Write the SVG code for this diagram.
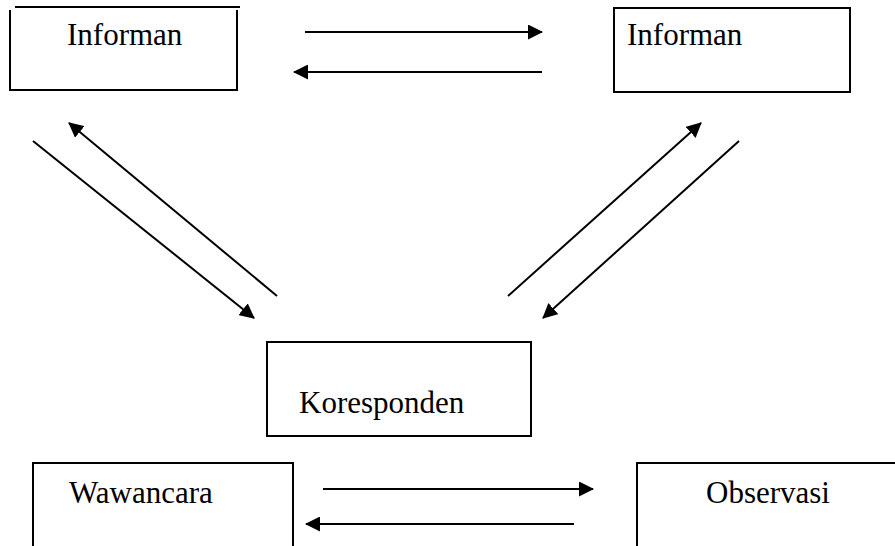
<svg xmlns="http://www.w3.org/2000/svg" width="895" height="546" viewBox="0 0 895 546">
<style>
.box{fill:none;stroke:#000;stroke-width:2}
.lbl{font-family:"Liberation Serif","Times New Roman",serif;font-size:31px;fill:#000}
.con{stroke:#000;stroke-width:2;fill:none}
</style>
<defs>
<marker id="ah" viewBox="0 0 15 15" refX="14" refY="7.5" markerWidth="15" markerHeight="15" markerUnits="userSpaceOnUse" orient="auto">
<path d="M0,0 L15,7.5 L0,15 z" fill="#000"/>
</marker>
</defs>
<rect width="895" height="546" fill="#fff"/>
<g id="informan-left">
<path class="box" d="M15,7 H240 M10,10 V90 H237 V10"/>
<text class="lbl" x="67" y="45">Informan</text>
</g>
<g id="informan-right">
<rect class="box" x="614" y="8" width="236" height="84"/>
<text class="lbl" x="627" y="45">Informan</text>
</g>
<g id="koresponden">
<rect class="box" x="267" y="342" width="264" height="94"/>
<text class="lbl" x="299" y="413">Koresponden</text>
</g>
<g id="wawancara">
<path class="box" d="M33,560 V463 H293 V560"/>
<text class="lbl" x="69" y="503">Wawancara</text>
</g>
<g id="observasi">
<path class="box" d="M637,560 V463 H900"/>
<text class="lbl" x="706" y="503">Observasi</text>
</g>
<g id="connectors">
<line class="con" x1="305" y1="32" x2="542" y2="32" marker-end="url(#ah)"/>
<line class="con" x1="542" y1="72" x2="294" y2="72" marker-end="url(#ah)"/>
<line class="con" x1="33" y1="141" x2="254" y2="318" marker-end="url(#ah)"/>
<line class="con" x1="277" y1="296" x2="69" y2="123" marker-end="url(#ah)"/>
<line class="con" x1="508" y1="296" x2="701" y2="123" marker-end="url(#ah)"/>
<line class="con" x1="739" y1="141" x2="543" y2="318" marker-end="url(#ah)"/>
<line class="con" x1="323" y1="489" x2="593" y2="489" marker-end="url(#ah)"/>
<line class="con" x1="574" y1="524" x2="306" y2="524" marker-end="url(#ah)"/>
</g>
</svg>
